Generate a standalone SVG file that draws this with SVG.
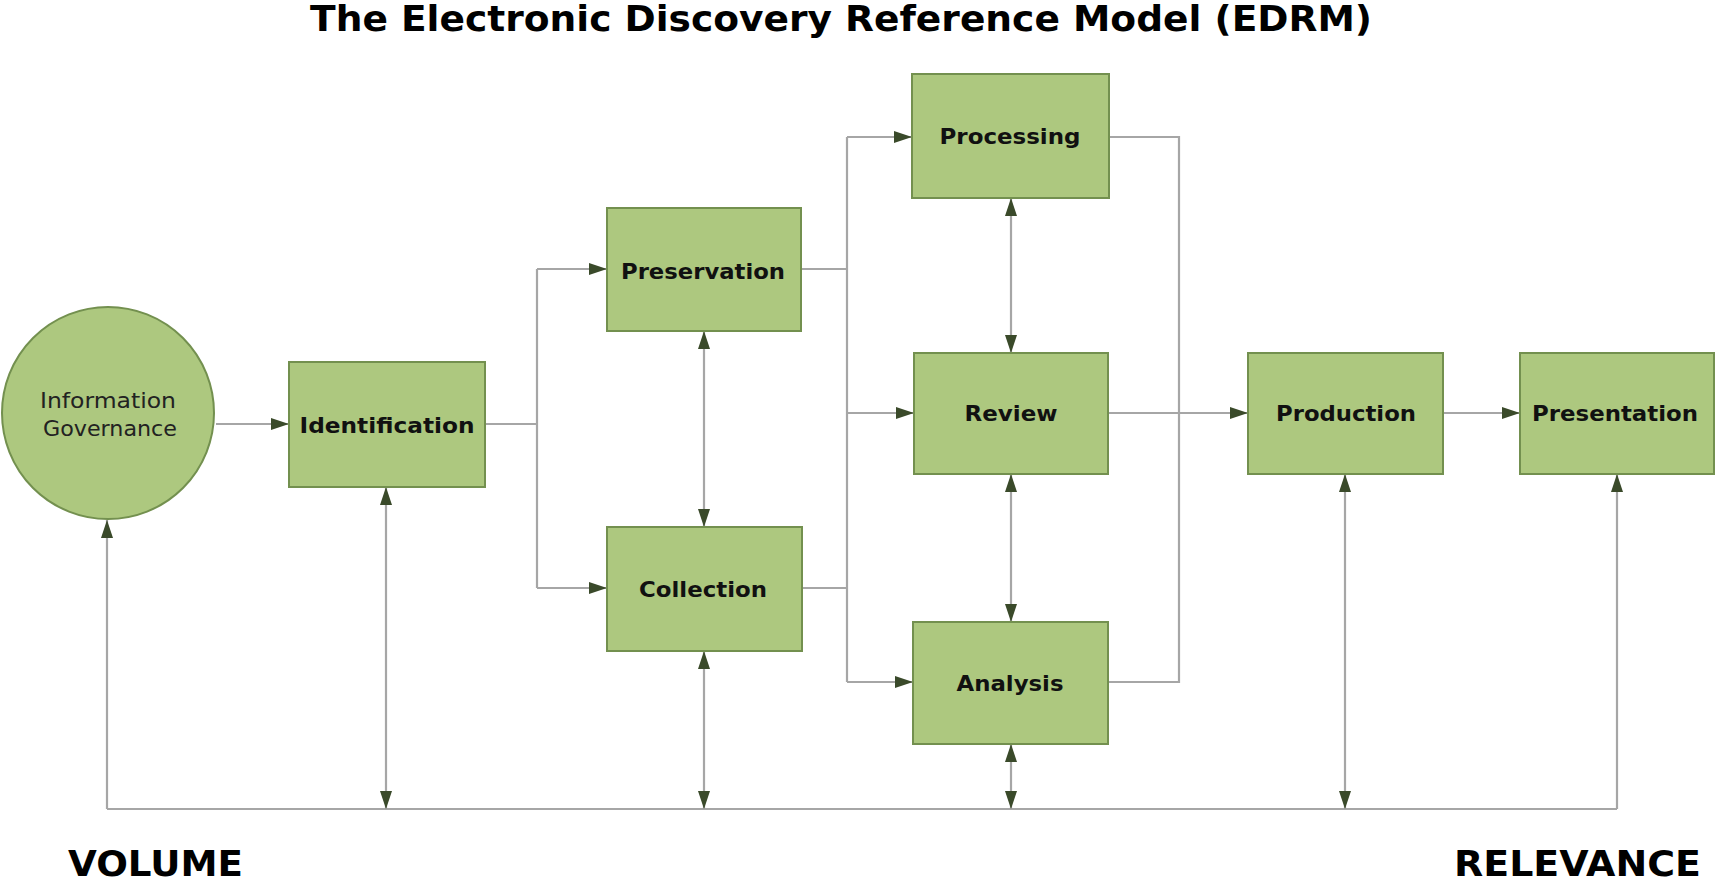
<svg xmlns="http://www.w3.org/2000/svg" width="1717" height="885" viewBox="0 0 1717 885">
<style>
.node{fill:#adc87f;stroke:#73904f;stroke-width:2}
.lbl{font-family:"DejaVu Sans",Verdana,sans-serif;font-weight:bold;font-size:22px;fill:#111;text-anchor:middle}
.reg{font-family:"DejaVu Sans",Verdana,sans-serif;font-size:21px;fill:#222;text-anchor:middle}
.big{font-family:"DejaVu Sans",Verdana,sans-serif;font-weight:bold;fill:#000}
.c{fill:none;stroke:#a6a6a6;stroke-width:2.2}
.a{marker-end:url(#ah)}
.b{marker-start:url(#ah);marker-end:url(#ah)}
</style>
<defs>
<marker id="ah" markerUnits="userSpaceOnUse" markerWidth="18" markerHeight="12" refX="18" refY="6" orient="auto-start-reverse" viewBox="0 0 18 12">
<path d="M0,0 L18,6 L0,12 z" fill="#3a4a2a"/>
</marker>
</defs>
<rect width="1717" height="885" fill="#fff"/>
<text class="big" x="841" y="31" font-size="35" text-anchor="middle" textLength="1062" lengthAdjust="spacingAndGlyphs">The Electronic Discovery Reference Model (EDRM)</text>
<text class="big" x="68" y="876" font-size="35" textLength="175" lengthAdjust="spacingAndGlyphs">VOLUME</text>
<text class="big" x="1454" y="876" font-size="35" textLength="247" lengthAdjust="spacingAndGlyphs">RELEVANCE</text>
<g id="connectors">
<path class="c a" d="M216,424 H289"/>
<path class="c" d="M485,424 H537"/>
<path class="c" d="M537,269 V588"/>
<path class="c a" d="M537,269 H607"/>
<path class="c a" d="M537,588 H607"/>
<path class="c b" d="M704,331 V527"/>
<path class="c" d="M801,269 H847"/>
<path class="c" d="M802,588 H847"/>
<path class="c" d="M847,137 V682"/>
<path class="c a" d="M847,137 H912"/>
<path class="c a" d="M847,413 H914"/>
<path class="c a" d="M847,682 H913"/>
<path class="c b" d="M1011,198 V353"/>
<path class="c b" d="M1011,474 V622"/>
<path class="c" d="M1109,137 H1179 V682 H1108"/>
<path class="c a" d="M1108,413 H1248"/>
<path class="c a" d="M1443,413 H1520"/>
<path class="c" d="M107,809 H1617"/>
<path class="c a" d="M107,809 V520"/>
<path class="c b" d="M386,809 V487"/>
<path class="c b" d="M704,809 V651"/>
<path class="c b" d="M1011,809 V744"/>
<path class="c b" d="M1345,809 V474"/>
<path class="c a" d="M1617,809 V474"/>
</g>
<g id="information-governance">
<circle class="node" cx="108" cy="413" r="106"/>
<text class="reg" x="108" y="408" textLength="136" lengthAdjust="spacingAndGlyphs">Information</text>
<text class="reg" x="110" y="436" textLength="134" lengthAdjust="spacingAndGlyphs">Governance</text>
</g>
<g id="identification">
<rect class="node" x="289" y="362" width="196" height="125"/>
<text class="lbl" x="387" y="433" textLength="175" lengthAdjust="spacingAndGlyphs">Identification</text>
</g>
<g id="preservation">
<rect class="node" x="607" y="208" width="194" height="123"/>
<text class="lbl" x="703" y="279" textLength="164" lengthAdjust="spacingAndGlyphs">Preservation</text>
</g>
<g id="collection">
<rect class="node" x="607" y="527" width="195" height="124"/>
<text class="lbl" x="703" y="597" textLength="128" lengthAdjust="spacingAndGlyphs">Collection</text>
</g>
<g id="processing">
<rect class="node" x="912" y="74" width="197" height="124"/>
<text class="lbl" x="1010" y="144" textLength="141" lengthAdjust="spacingAndGlyphs">Processing</text>
</g>
<g id="review">
<rect class="node" x="914" y="353" width="194" height="121"/>
<text class="lbl" x="1011" y="421" textLength="93" lengthAdjust="spacingAndGlyphs">Review</text>
</g>
<g id="analysis">
<rect class="node" x="913" y="622" width="195" height="122"/>
<text class="lbl" x="1010" y="691" textLength="107" lengthAdjust="spacingAndGlyphs">Analysis</text>
</g>
<g id="production">
<rect class="node" x="1248" y="353" width="195" height="121"/>
<text class="lbl" x="1346" y="421" textLength="140" lengthAdjust="spacingAndGlyphs">Production</text>
</g>
<g id="presentation">
<rect class="node" x="1520" y="353" width="194" height="121"/>
<text class="lbl" x="1615" y="421" textLength="166" lengthAdjust="spacingAndGlyphs">Presentation</text>
</g>
</svg>
